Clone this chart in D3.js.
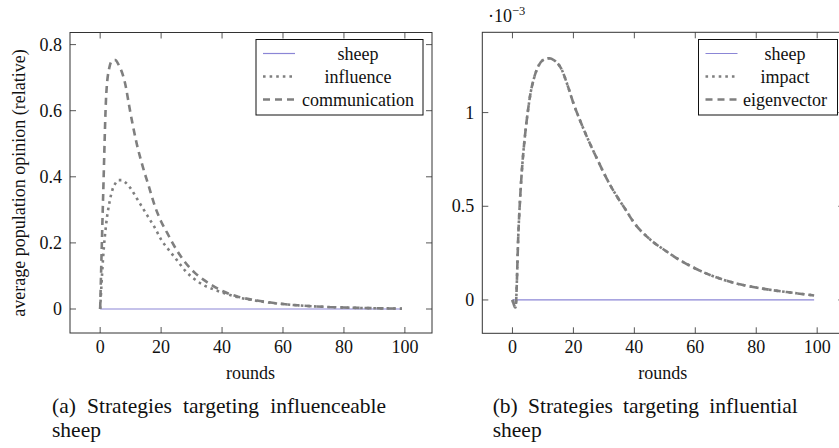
<!DOCTYPE html>
<html><head><meta charset="utf-8">
<script src="https://cdn.jsdelivr.net/npm/d3@7"></script>
<style>
html,body{margin:0;padding:0;background:#fff;}
svg{display:block;}
svg text{font-family:"Liberation Serif","DejaVu Serif",serif;}
</style></head>
<body>
<svg id="chart" width="839" height="448"></svg>
<script>
// ---- data ----
const rounds = [0,1,2,3,4,5,6,7,8,10,12,14,16,18,20,22,25,28,31,34,37,40,45,50,55,60,65,70,75,80,85,90,95,99];
const sheepRounds = [0, 99];
const sheepA = [0, 0];
const influence = [0,0.16,0.26,0.32,0.36,0.38,0.39,0.39,0.385,0.365,0.335,0.305,0.275,0.245,0.21,0.185,0.15,0.115,0.09,0.072,0.06,0.05,0.036,0.027,0.02,0.015,0.011,0.008,0.006,0.0045,0.0033,0.0024,0.0017,0.0012];
const communication = [0,0.35,0.65,0.73,0.752,0.753,0.74,0.72,0.69,0.59,0.50,0.43,0.37,0.31,0.265,0.23,0.18,0.14,0.11,0.088,0.07,0.055,0.038,0.028,0.021,0.015,0.011,0.008,0.006,0.0045,0.0033,0.0024,0.0017,0.0012];
const sheepB = [0, 0];
// values in units of 10^-3
const impact = [0,-0.04,0.38,0.67,0.86,1.0,1.11,1.18,1.23,1.28,1.29,1.275,1.235,1.15,1.05,0.965,0.85,0.745,0.645,0.56,0.485,0.41,0.325,0.265,0.212,0.168,0.132,0.104,0.082,0.066,0.053,0.042,0.032,0.024];
const eigenvector = [0,-0.04,0.38,0.67,0.86,1.0,1.11,1.18,1.23,1.28,1.29,1.275,1.235,1.15,1.05,0.965,0.85,0.745,0.645,0.56,0.485,0.41,0.325,0.265,0.212,0.168,0.132,0.104,0.082,0.066,0.053,0.042,0.032,0.024];
const xTicks = [0,20,40,60,80,100];
const yTicksA = [0,0.2,0.4,0.6,0.8];
const yTickLabelsA = ["0","0.2","0.4","0.6","0.8"];
const yTicksB = [0,0.5,1];
const yTickLabelsB = ["0","0.5","1"];
const legendA = ["sheep","influence","communication"];
const legendB = ["sheep","impact","eigenvector"];
const captionA = ["(a)","Strategies","targeting","influenceable"];
const captionB = ["(b)","Strategies","targeting","influential"];

const svg = d3.select("#chart");
const SHEEP = "#8b86d6", GRAY = "#7f7f7f";
const styles = {
  solid: {color: SHEEP, width: 1.2, dash: null},
  dotted: {color: GRAY, width: 2.6, dash: "2.6,4"},
  dashed: {color: GRAY, width: 2.6, dash: "7,5"}
};

function panel(cfg) {
  const x = d3.scaleLinear().domain([-9.9, 108.9]).range([cfg.left, cfg.right]);
  const y = d3.scaleLinear().domain(cfg.ydom).range([cfg.bottom, cfg.top]);
  const g = svg.append("g").attr("fill", "#111");
  const tl = 6;
  const tk = g.append("g").attr("stroke", "#444").attr("stroke-width", 0.9);
  xTicks.forEach(t => {
    tk.append("line").attr("x1", x(t)).attr("x2", x(t)).attr("y1", cfg.bottom).attr("y2", cfg.bottom - tl);
    tk.append("line").attr("x1", x(t)).attr("x2", x(t)).attr("y1", cfg.top).attr("y2", cfg.top + tl);
  });
  cfg.yticks.forEach(t => {
    tk.append("line").attr("x1", cfg.left).attr("x2", cfg.left + tl).attr("y1", y(t)).attr("y2", y(t));
    tk.append("line").attr("x1", cfg.right).attr("x2", cfg.right - tl).attr("y1", y(t)).attr("y2", y(t));
  });
  xTicks.forEach(t => {
    g.append("text").attr("x", x(t)).attr("y", 353).attr("text-anchor", "middle")
      .attr("font-size", 18).text(t);
  });
  cfg.yticks.forEach((t, i) => {
    g.append("text").attr("x", cfg.left - 8).attr("y", y(t) + 6).attr("text-anchor", "end")
      .attr("font-size", 18).text(cfg.ylabels[i]);
  });
  const line = d3.line().x(d => x(d[0])).y(d => y(d[1])).curve(d3.curveMonotoneX);
  cfg.series.forEach(s => {
    const st = styles[s.style];
    g.append("path").datum(s.xs.map((r, i) => [r, s.vals[i]]))
      .attr("d", line).attr("fill", "none").attr("stroke", st.color)
      .attr("stroke-width", st.width).attr("stroke-dasharray", st.dash);
  });
  g.append("rect").attr("x", cfg.left).attr("y", cfg.top)
    .attr("width", cfg.right - cfg.left).attr("height", cfg.bottom - cfg.top)
    .attr("fill", "none").attr("stroke", "#333").attr("stroke-width", 1);
  g.append("text").attr("x", (x(0) + x(100)) / 2 - 2).attr("y", 379).attr("text-anchor", "middle")
    .attr("font-size", 18).text("rounds");
  const lg = g.append("g");
  lg.append("rect").attr("x", cfg.lg.x).attr("y", 39.5).attr("width", cfg.lg.w).attr("height", 75.5)
    .attr("fill", "#fff").attr("stroke", "#111").attr("stroke-width", 1);
  cfg.series.forEach((s, i) => {
    const st = styles[s.style];
    const cy = 53.5 + i * 23;
    lg.append("line").attr("x1", cfg.lg.x + 7).attr("x2", cfg.lg.x + 39).attr("y1", cy).attr("y2", cy)
      .attr("stroke", st.color).attr("stroke-width", st.width).attr("stroke-dasharray", st.dash);
    lg.append("text").attr("x", cfg.lg.tx).attr("y", cy + 6).attr("text-anchor", "middle")
      .attr("font-size", 18).text(cfg.legend[i]);
  });
  const cap = g.append("g").attr("font-size", 21.5);
  const words = cfg.caption.map(w => cap.append("text").attr("y", 413).text(w));
  const widths = words.map(t => t.node().getComputedTextLength());
  const total = cfg.capRight - cfg.capLeft;
  const gap = (total - d3.sum(widths)) / (words.length - 1);
  let cx = cfg.capLeft;
  words.forEach((t, i) => { t.attr("x", cx); cx += widths[i] + gap; });
  cap.append("text").attr("x", cfg.capLeft).attr("y", 437).text("sheep");
  return {x, y, g};
}

panel({
  left: 70, right: 432, top: 32.5, bottom: 333,
  ydom: [-0.0726, 0.8366], yticks: yTicksA, ylabels: yTickLabelsA,
  series: [
    {xs: sheepRounds, vals: sheepA, style: "solid"},
    {xs: rounds, vals: influence, style: "dotted"},
    {xs: rounds, vals: communication, style: "dashed"}
  ],
  legend: legendA, lg: {x: 256, w: 167, tx: 358},
  caption: captionA, capLeft: 52, capRight: 386
});

panel({
  left: 482.3, right: 844.3, top: 32.3, bottom: 333.3,
  ydom: [-0.178, 1.4285], yticks: yTicksB, ylabels: yTickLabelsB,
  series: [
    {xs: sheepRounds, vals: sheepB, style: "solid"},
    {xs: rounds, vals: impact, style: "dotted"},
    {xs: rounds, vals: eigenvector, style: "dashed"}
  ],
  legend: legendB, lg: {x: 698.5, w: 139, tx: 785},
  caption: captionB, capLeft: 492.7, capRight: 797.7
});

svg.append("text").attr("transform", "translate(25,183) rotate(-90)")
  .attr("text-anchor", "middle").attr("font-size", 18).attr("fill", "#111")
  .text("average population opinion (relative)");

const sf = svg.append("text").attr("x", 488).attr("y", 22).attr("font-size", 18).attr("fill", "#111");
sf.append("tspan").text("·10");
sf.append("tspan").attr("font-size", 12.5).attr("dy", -7).text("−3");
</script>
</body></html>
